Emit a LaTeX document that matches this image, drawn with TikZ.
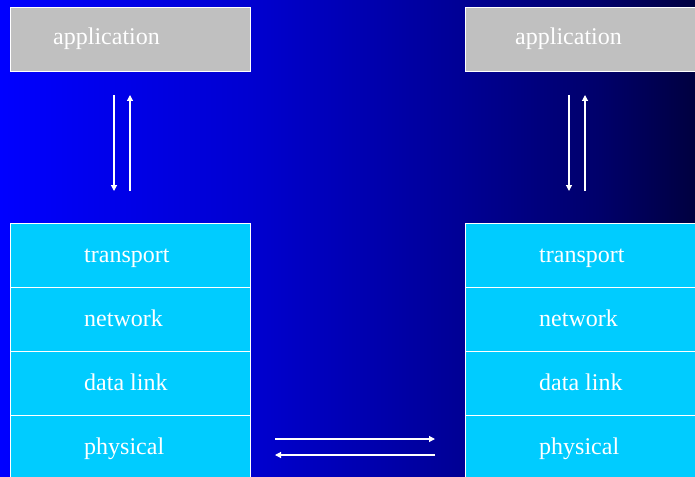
\documentclass[tikz,border=0pt]{standalone}
\usepackage{fontspec}
\setmainfont{Liberation Serif}
\usetikzlibrary{arrows.meta}
\pgfdeclarehorizontalshading{bgshade}{100bp}{rgb(0bp)=(0,0,1); rgb(25bp)=(0,0,1); rgb(43bp)=(0,0,0.816); rgb(57.37bp)=(0,0,0.596); rgb(68.17bp)=(0,0,0.416); rgb(75bp)=(0,0,0.25); rgb(100bp)=(0,0,0.25)}
\definecolor{appgray}{RGB}{192,192,192}
\definecolor{layercyan}{RGB}{0,204,255}
\tikzset{
  appbox/.style={draw=white, line width=1pt, fill=appgray, minimum width=240pt, minimum height=64pt, anchor=north west, inner sep=0pt},
  layerbox/.style={draw=white, line width=1pt, fill=layercyan, minimum width=240pt, minimum height=64pt, anchor=north west, inner sep=0pt},
  lbl/.style={text=white, font=\fontsize{24}{28}\selectfont, anchor=base west, inner sep=0pt},
  arr/.style={draw=white, line width=1.2pt, -{Triangle[length=6pt,width=6pt]}}
}
\begin{document}
\begin{tikzpicture}[x=1pt,y=-1pt]
\useasboundingbox (0,0) rectangle (695,476);
\clip (0,0) rectangle (695,476);
\fill[shading=bgshade] (0,0) rectangle (695,476);
% left stack
\node[appbox] (appL) at (10,7) {};
\node[lbl] (appLt) at (53,45) {application};
\node[layerbox] (trL) at (10,223) {};
\node[layerbox] (nwL) at (10,287) {};
\node[layerbox] (dlL) at (10,351) {};
\node[layerbox] (phL) at (10,415) {};
\node[lbl] (trLt) at (84,262) {transport};
\node[lbl] (nwLt) at (84,326) {network};
\node[lbl] (dlLt) at (84,390) {data link};
\node[lbl] (phLt) at (84,454) {physical};
% right stack
\node[appbox] (appR) at (465,7) {};
\node[lbl] (appRt) at (515,45) {application};
\node[layerbox] (trR) at (465,223) {};
\node[layerbox] (nwR) at (465,287) {};
\node[layerbox] (dlR) at (465,351) {};
\node[layerbox] (phR) at (465,415) {};
\node[lbl] (trRt) at (539,262) {transport};
\node[lbl] (nwRt) at (539,326) {network};
\node[lbl] (dlRt) at (539,390) {data link};
\node[lbl] (phRt) at (539,454) {physical};
% arrow endpoints
\coordinate (l1t) at (114,95);
\coordinate (l1b) at (114,191);
\coordinate (l2t) at (130,95);
\coordinate (l2b) at (130,191);
\coordinate (r1t) at (569,95);
\coordinate (r1b) at (569,191);
\coordinate (r2t) at (585,95);
\coordinate (r2b) at (585,191);
\coordinate (h1l) at (275,439);
\coordinate (h1r) at (435,439);
\coordinate (h2l) at (275,455);
\coordinate (h2r) at (435,455);
\draw[arr] (l1t) -- (l1b);
\draw[arr] (l2b) -- (l2t);
\draw[arr] (r1t) -- (r1b);
\draw[arr] (r2b) -- (r2t);
\draw[arr] (h1l) -- (h1r);
\draw[arr] (h2r) -- (h2l);
\end{tikzpicture}
\end{document}
